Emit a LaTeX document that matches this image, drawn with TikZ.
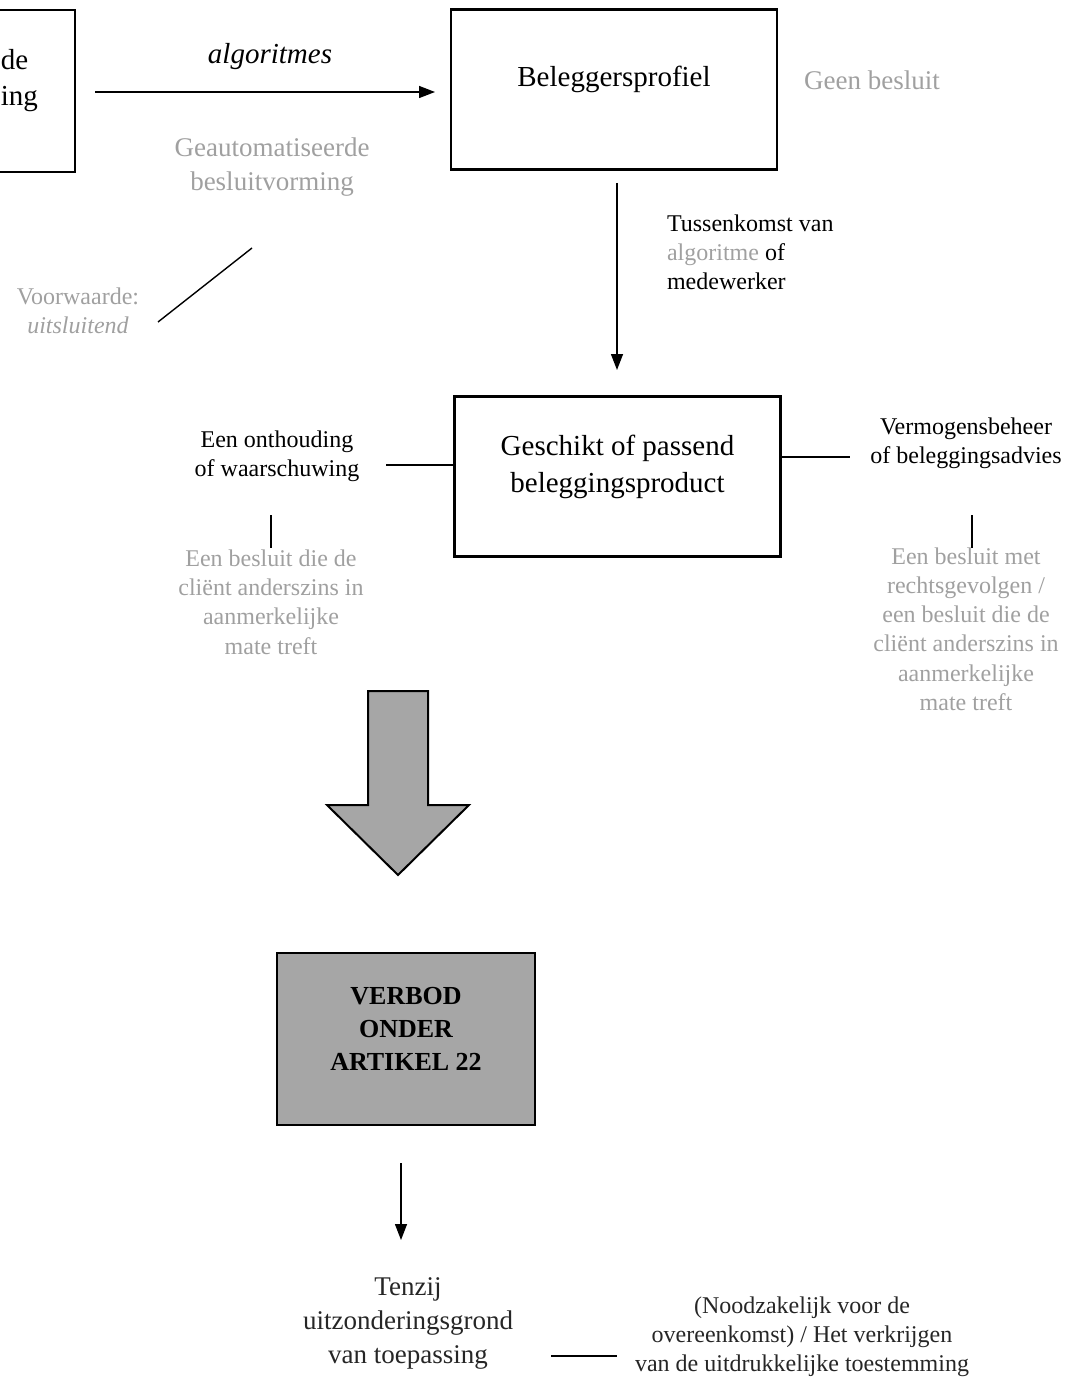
\documentclass[tikz,border=0pt]{standalone}
\usepackage{fontspec}
\setmainfont{Liberation Serif}
\usepackage{tikz}
\usetikzlibrary{arrows.meta, positioning}

\definecolor{lightgray}{RGB}{160,160,160}
\definecolor{boxgray}{RGB}{166,166,166}

\tikzset{
    box/.style={draw, line width=1.4pt, minimum width=163pt, minimum height=80pt, inner sep=0pt},
    bigtext/.style={font=\fontsize{14.5}{18.5}\selectfont, align=center},
    midtext/.style={font=\fontsize{13.5}{17}\selectfont, align=center},
    smalltext/.style={font=\fontsize{12}{14.6}\selectfont, align=center},
    pale/.style={text=lightgray},
    link/.style={line width=0.7pt},
    arrowlink/.style={line width=0.7pt, -{Triangle[length=8pt,width=6pt]}}
}

\begin{document}
\begin{tikzpicture}[x=0.5pt, y=-0.5pt]

    % Fix the page to the size of the reference
    \clip (0,0) rectangle (1073,1380);

    % Top row: cut-off box, arrow and profile box
    \draw[line width=1.4pt] (-120,10) rectangle (75,172);
    \node[bigtext, anchor=base west, inner sep=0pt] (lefttop) at (0.5,70) {de};
    \node[bigtext, anchor=base west, inner sep=0pt] (leftbot) at (0.5,106) {ing};
    \coordinate (algstart) at (95,92);
    \node[box] (profiel) at (614,89.5) {};
    \node[bigtext] at (profiel.center) [yshift=5pt] {Beleggersprofiel};
    \coordinate (algend) at (435,92);
    \draw[arrowlink] (algstart) -- (algend);
    \node[bigtext, font=\fontsize{14.5}{18.5}\selectfont\itshape] (alg) at (270,57) {algoritmes};
    \node[midtext, pale] (geauto) at (272,167) {Geautomatiseerde\\besluitvorming};
    \node[midtext, pale] (geen) at (872,80) {Geen besluit};

    % Condition on the left
    \node[smalltext, pale] (voorw) at (78,311) {Voorwaarde:\\\textit{uitsluitend}};
    \coordinate (diaglow) at (158,322);
    \coordinate (diaghigh) at (252,248);
    \draw[link] (diaglow) -- (diaghigh);

    % Intervention arrow down
    \coordinate (profbelow) at (617,183);
    \coordinate (geschabove) at (617,370);
    \draw[arrowlink] (profbelow) -- (geschabove);
    \node[smalltext, align=left, anchor=west] (tussen) at (660,252)
        {Tussenkomst van\\\textcolor{lightgray}{algoritme} of\\medewerker};

    % Middle row
    \node[box] (geschikt) at (617.5,476.5) {};
    \node[bigtext] at (geschikt.center) [yshift=5pt] {Geschikt of passend\\beleggingsproduct};

    \node[smalltext] (onth) at (277,456) {Een onthouding\\of waarschuwing};
    \coordinate (onthend) at (386,465);
    \draw[link] (onthend) -- (onthend -| geschikt.west);
    \coordinate (onthdown1) at (271,515);
    \coordinate (onthdown2) at (271,548);
    \draw[link] (onthdown1) -- (onthdown2);
    \node[smalltext, pale] (onthgevolg) at (271,602)
        {Een besluit die de\\cliënt anderszins in\\aanmerkelijke\\mate treft};

    \node[smalltext] (vermogen) at (966,443) {Vermogensbeheer\\of beleggingsadvies};
    \coordinate (vermend) at (850,457);
    \draw[link] (vermend -| geschikt.east) -- (vermend);
    \coordinate (vermdown1) at (972,515);
    \coordinate (vermdown2) at (972,548);
    \draw[link] (vermdown1) -- (vermdown2);
    \node[smalltext, pale] (vermgevolg) at (966,629)
        {Een besluit met\\rechtsgevolgen /\\een besluit die de\\cliënt anderszins in\\aanmerkelijke\\mate treft};

    % Big gray arrow
    \draw[fill=boxgray, line width=1pt]
        (368,691) -- (428,691) -- (428,805) -- (469,805) -- (398,875)
        -- (327,805) -- (368,805) -- cycle;

    % Prohibition box
    \node[draw, fill=boxgray, line width=1.4pt, minimum width=129pt, minimum height=86pt] (verbod) at (406,1039) {};
    \node[font=\fontsize{13}{16.5}\selectfont\bfseries, align=center] at (verbod.center) [yshift=5pt]
        {VERBOD\\ONDER\\ARTIKEL 22};
    \coordinate (verbodbelow) at (401,1163);
    \coordinate (tenzijabove) at (401,1240);
    \draw[arrowlink] (verbodbelow) -- (tenzijabove);

    % Exception
    \node[midtext, text=black!85] (tenzij) at (408,1323) {Tenzij\\uitzonderingsgrond\\van toepassing};
    \coordinate (exline1) at (551,1356);
    \coordinate (exline2) at (617,1356);
    \draw[link] (exline1) -- (exline2);
    \node[smalltext, text=black!85] (uitzond) at (802,1337)
        {(Noodzakelijk voor de\\overeenkomst) / Het verkrijgen\\van de uitdrukkelijke toestemming};

\end{tikzpicture}
\end{document}
